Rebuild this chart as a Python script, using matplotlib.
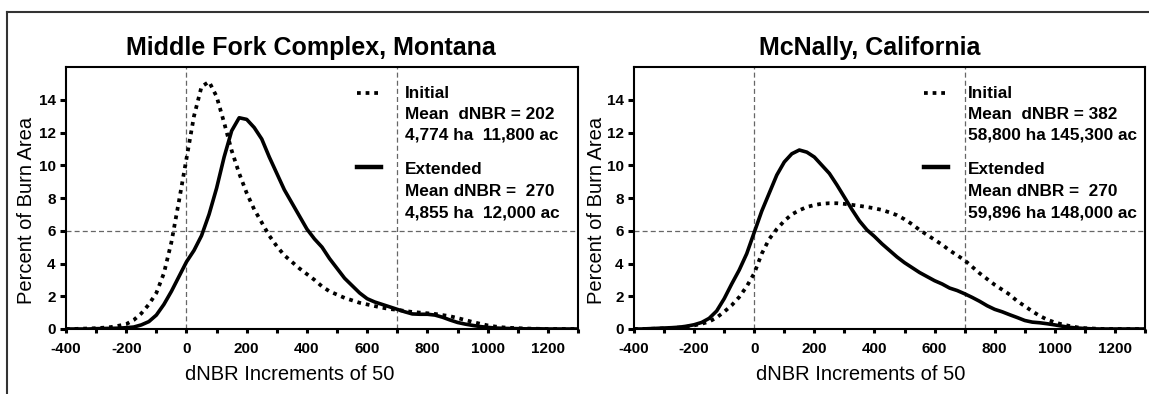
import numpy as np
import matplotlib
matplotlib.use("Agg")
import matplotlib.pyplot as plt
from matplotlib.lines import Line2D

plt.rcParams['font.family'] = ['Liberation Sans', 'DejaVu Sans']

# dNBR bins (every 25 units)
dnbr = np.arange(-400, 1301, 25)

# Middle Fork Complex, Montana - percent of burn area
mf_initial = [0.0, 0.0, 0.02, 0.03, 0.05, 0.08, 0.12, 0.2, 0.3, 0.55, 0.95, 1.5, 2.2, 3.4,
              5.3, 7.8, 10.4, 13.0, 14.8, 15.1, 14.2, 12.6, 10.9, 9.5, 8.3, 7.3, 6.5, 5.7,
              5.05, 4.5, 4.1, 3.7, 3.35, 3.0, 2.6, 2.3, 2.1, 1.9, 1.75, 1.6, 1.5, 1.4, 1.3,
              1.22, 1.17, 1.1, 1.04, 1.0, 0.96, 0.92, 0.85, 0.78, 0.67, 0.55, 0.43, 0.32,
              0.22, 0.15, 0.1, 0.07, 0.05, 0.03, 0.02, 0.01, 0.0, 0.0, 0.0, 0.0, 0.0]
mf_extended = [0.0, 0.0, 0.0, 0.0, 0.02, 0.03, 0.04, 0.05, 0.08, 0.12, 0.25, 0.45, 0.85, 1.5,
               2.3, 3.2, 4.1, 4.8, 5.7, 7.0, 8.6, 10.5, 12.1, 12.9, 12.8, 12.3, 11.6, 10.5,
               9.5, 8.5, 7.7, 6.9, 6.1, 5.5, 5.0, 4.3, 3.7, 3.1, 2.65, 2.2, 1.85, 1.65, 1.5,
               1.35, 1.2, 1.05, 0.92, 0.9, 0.9, 0.85, 0.72, 0.55, 0.4, 0.3, 0.22, 0.15, 0.1,
               0.06, 0.04, 0.03, 0.02, 0.01, 0.01, 0.01, 0.0, 0.0, 0.0, 0.0, 0.0]

# McNally, California
mc_initial = [0.0, 0.0, 0.01, 0.02, 0.04, 0.06, 0.09, 0.14, 0.22, 0.32, 0.45, 0.7, 1.05, 1.45,
              1.95, 2.6, 3.4, 4.6, 5.5, 6.1, 6.6, 7.0, 7.25, 7.45, 7.57, 7.65, 7.68, 7.68,
              7.64, 7.58, 7.52, 7.45, 7.37, 7.27, 7.12, 6.95, 6.7, 6.4, 6.05, 5.75, 5.45,
              5.15, 4.8, 4.5, 4.2, 3.8, 3.4, 3.05, 2.7, 2.4, 2.1, 1.7, 1.4, 1.08, 0.8, 0.57,
              0.4, 0.28, 0.18, 0.1, 0.05, 0.03, 0.01, 0.0, 0.0, 0.0, 0.0, 0.0, 0.0]
mc_extended = [0.0, 0.0, 0.02, 0.04, 0.06, 0.08, 0.11, 0.17, 0.26, 0.4, 0.65, 1.1, 1.85, 2.75,
               3.6, 4.6, 5.9, 7.2, 8.3, 9.4, 10.2, 10.7, 10.93, 10.8, 10.5, 10.0, 9.5, 8.8,
               8.05, 7.3, 6.6, 6.05, 5.65, 5.2, 4.8, 4.4, 4.05, 3.75, 3.45, 3.2, 2.95, 2.75,
               2.5, 2.35, 2.15, 1.93, 1.69, 1.42, 1.2, 1.05, 0.87, 0.7, 0.52, 0.42, 0.38,
               0.32, 0.25, 0.17, 0.1, 0.06, 0.03, 0.01, 0.0, 0.0, 0.0, 0.0, 0.0, 0.0, 0.0]

titles = ["Middle Fork Complex, Montana", "McNally, California"]
legend_text = [
    (["Initial", "Mean  dNBR = 202", "4,774 ha  11,800 ac"],
     ["Extended", "Mean dNBR =  270", "4,855 ha  12,000 ac"]),
    (["Initial", "Mean  dNBR = 382", "58,800 ha 145,300 ac"],
     ["Extended", "Mean dNBR =  270", "59,896 ha 148,000 ac"]),
]
xticks = np.arange(-400, 1301, 100)
xtick_labels = [str(v) if (v % 200 == 0 and v <= 1200) else "" for v in xticks]
yticks = np.arange(0, 15, 2)

W, H = 1149, 394
fig = plt.figure(figsize=(W / 100, H / 100), dpi=100)

# outer frame (top and left edge only)
fig.add_artist(Line2D([7 / W, 1.0], [1 - 12 / H, 1 - 12 / H], color='#333333', lw=1.5))
fig.add_artist(Line2D([7 / W, 7 / W], [0, 1 - 12 / H], color='#333333', lw=1.5))

# axes left/right px, title x, xlabel x, ylabel x, legend text gap
panels = [(66, 578, mf_initial, mf_extended, 311, 290, 27, 8),
          (634, 1145, mc_initial, mc_extended, 870, 861, 597, 3)]
top, bottom = 67, 329

for i, (x0, x1, ini, ext, tx, xlx, ylx, gap) in enumerate(panels):
    ax = fig.add_axes([x0 / W, (H - bottom) / H, (x1 - x0) / W, (bottom - top) / H])
    ax.set_xlim(-400, 1300)
    ax.set_ylim(0, 16)

    ax.axvline(0, color='#666666', lw=0.9, ls=(0, (4, 2.5)), zorder=1)
    ax.axvline(700, color='#666666', lw=0.9, ls=(0, (4, 2.5)), zorder=1)
    ax.axhline(6, color='#666666', lw=0.9, ls=(0, (4, 2.5)), zorder=1)

    ax.plot(dnbr, ini, color='black', lw=2.7, ls=(0, (1, 1.3)), dash_capstyle='butt', zorder=3)
    ax.plot(dnbr, ext, color='black', lw=2.6, ls='-', zorder=3)

    for s in ax.spines.values():
        s.set_linewidth(1.5)
    ax.set_xticks(xticks)
    ax.set_xticklabels(xtick_labels)
    ax.set_yticks(yticks)
    ax.tick_params(axis='x', direction='out', length=3, width=2.2, pad=6.5, labelsize=11)
    ax.tick_params(axis='y', direction='out', length=4.5, width=2.2, pad=3, labelsize=11)
    for lab in ax.get_xticklabels() + ax.get_yticklabels():
        lab.set_fontweight('bold')

    # legend drawn by hand: sample line + three lines of text per series
    w = x1 - x0
    lx = [(357 - 66) / 512, (381 - 66) / 512]
    line_y = [93, 114.5, 135.5, 169.5, 191, 212.5]
    ax.add_line(Line2D(lx, [(bottom - 93) / (bottom - top)] * 2, transform=ax.transAxes,
                       color='black', lw=2.7, ls=(0, (1, 1.3)), dash_capstyle='butt'))
    ax.add_line(Line2D(lx, [(bottom - 167) / (bottom - top)] * 2, transform=ax.transAxes,
                       color='black', lw=3.2))
    text_x = (700 - (-400)) / 1700 + gap / w
    lines = legend_text[i][0] + legend_text[i][1]
    for t, yy in zip(lines, line_y):
        ax.text(text_x, (bottom - yy) / (bottom - top), t, transform=ax.transAxes,
                fontsize=12.4, fontweight='bold', va='center', ha='left')

    fig.text(tx / W, 1 - 48 / H, titles[i], fontsize=18, fontweight='bold',
             ha='center', va='center')
    fig.text(xlx / W, 1 - 375 / H, "dNBR Increments of 50", fontsize=14.5,
             ha='center', va='center')
    fig.text(ylx / W, 1 - 210 / H, "Percent of Burn Area", fontsize=14.5,
             rotation=90, ha='center', va='center')

fig.savefig("out.png", dpi=100)
